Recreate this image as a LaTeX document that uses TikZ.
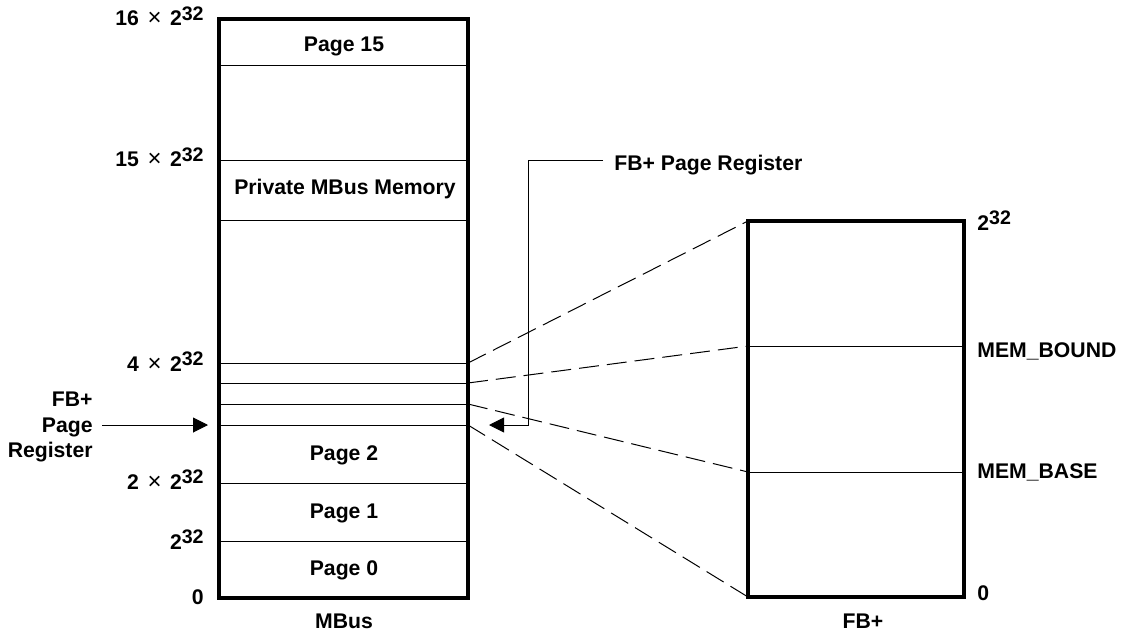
\documentclass[tikz,border=0pt]{standalone}
\usepackage{fontspec}
\setmainfont{Liberation Sans}
\newfontfamily\regfont{Liberation Sans}
\usetikzlibrary{arrows.meta}
\newcommand\sthirtytwo{\raisebox{2.7pt}{\fontsize{9.8}{12}\selectfont 32}}
\newcommand\timesmark{\hspace{0.4em}{\regfont\mdseries\fontsize{12}{12}\selectfont ×}\hspace{0.4em}}
\begin{document}
\begin{tikzpicture}[x=0.5pt,y=-0.5pt,
  font=\fontsize{10.6}{12}\selectfont\bfseries,
  frame/.style={line width=1.6pt, line join=miter},
  divider/.style={line width=0.5pt},
  maplink/.style={line width=0.5pt, dash pattern=on 10pt off 4pt},
  ptr/.style={line width=0.5pt, -{Triangle[length=7.5pt,width=7.5pt]}},
  lbl/.style={inner sep=0pt}]
\useasboundingbox (0,0) rectangle (1122,636);

% ---------- MBus column ----------
\coordinate (mtl) at (219,19);
\coordinate (mbr) at (468,598);
\foreach \y/\n in {66/a,161/b,220/c,363/d,383/e,404/f,425/g,483/h,541/i}{
  \coordinate (ml\n) at (219,\y);
  \coordinate (mr\n) at (468,\y);
  \draw[divider] (ml\n) -- (mr\n);
}
\draw[frame] (mtl) rectangle (mbr);

\node[lbl, anchor=base] (p15) at (344,52) {Page 15};
\node[lbl, anchor=base] (priv) at (345,195) {Private MBus Memory};
\node[lbl, anchor=base] (p2) at (344,460) {Page 2};
\node[lbl, anchor=base] (p1) at (344,518) {Page 1};
\node[lbl, anchor=base] (p0) at (344,575) {Page 0};
\node[lbl, anchor=base] (mbus) at (344,628) {MBus};

% left address labels
\node[lbl, anchor=base east] (a16) at (204,26) {16\timesmark 2\sthirtytwo};
\node[lbl, anchor=base east] (a15) at (204,167) {15\timesmark 2\sthirtytwo};
\node[lbl, anchor=base east] (a4) at (204,371) {4\timesmark 2\sthirtytwo};
\node[lbl, anchor=base east] (a2) at (204,489) {2\timesmark 2\sthirtytwo};
\node[lbl, anchor=base east] (a1) at (204,549) {2\sthirtytwo};
\node[lbl, anchor=base east] (a0) at (204,604) {0};

% left FB+ Page Register pointer
\node[lbl, anchor=base east] (lfb) at (93,406) {FB+};
\node[lbl, anchor=base east] (lpage) at (93,432) {Page};
\node[lbl, anchor=base east] (lreg) at (93,457) {Register};
\coordinate (lstart) at (102,425);
\coordinate (ltip) at (208,425);
\draw[ptr] (lstart) -- (ltip);

% ---------- FB+ column ----------
\coordinate (ftl) at (748,221);
\coordinate (fbr) at (964,597);
\coordinate (fbl) at (748,597);
\coordinate (fbound) at (748,346);
\coordinate (fbase) at (748,472);
\draw[divider] (fbound) -- (964,346);
\draw[divider] (fbase) -- (964,472);
\draw[frame] (ftl) rectangle (fbr);

\node[lbl, anchor=base west] (r32) at (977,230) {2\sthirtytwo};
\node[lbl, anchor=base west] (rbound) at (977,357) {MEM\_BOUND};
\node[lbl, anchor=base west] (rbase) at (977,478) {MEM\_BASE};
\node[lbl, anchor=base west] (r0) at (977,600) {0};
\node[lbl, anchor=base] (fbp) at (863,628) {FB+};

% dashed mapping lines
\draw[maplink] (mrd) -- (ftl);
\draw[maplink] (mre) -- (fbound);
\draw[maplink] (mrf) -- (fbase);
\draw[maplink] (mrg) -- (fbl);

% right FB+ Page Register pointer
\node[lbl, anchor=base west] (rreg) at (614,170) {FB+ Page Register};
\coordinate (rstart) at (603,161);
\coordinate (rcorner) at (528,161);
\coordinate (rlow) at (528,425);
\coordinate (rtip) at (489,425);
\draw[ptr] (rstart) -- (rcorner) -- (rlow) -- (rtip);
\end{tikzpicture}
\end{document}
